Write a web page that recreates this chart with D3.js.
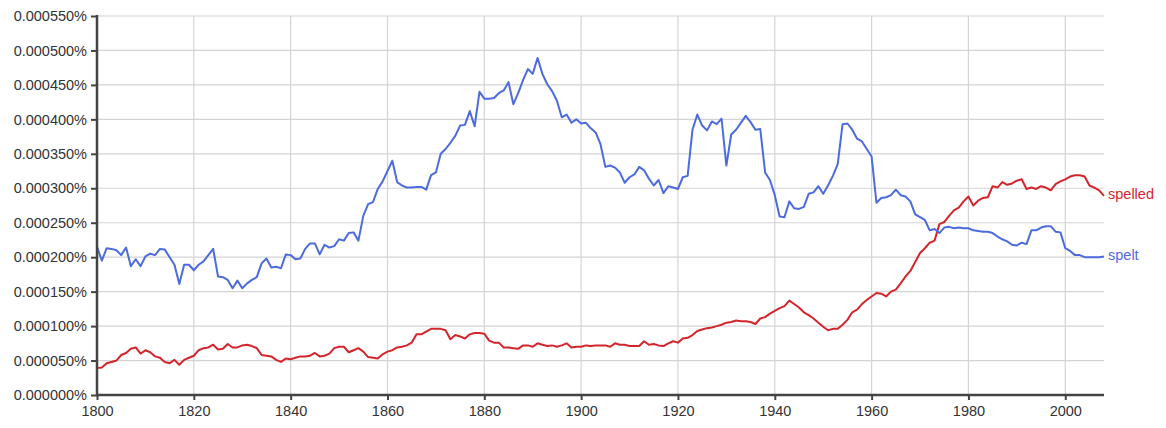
<!DOCTYPE html>
<html>
<head>
<meta charset="utf-8">
<script src="https://cdn.jsdelivr.net/npm/d3@7"></script>
<style>
  html, body { margin: 0; padding: 0; background: #fff; }
  svg { display: block; font-family: "Liberation Sans", Arial, Helvetica, sans-serif; }
</style>
</head>
<body>
<svg id="chart" width="1166" height="428"></svg>
<script>
// Values in millionths of a percent (e.g. 215 => 0.000215%)
const years = d3.range(1800, 2009);
const xTickYears = [1800, 1820, 1840, 1860, 1880, 1900, 1920, 1940, 1960, 1980, 2000];
const yTickValues = [0, 50, 100, 150, 200, 250, 300, 350, 400, 450, 500, 550];
const seriesNames = ["spelled", "spelt"];

const spelt = [
  215,195,213,212,210,203,214,187,197,187,201,205,203,212,211,200,189,161,189,189,
  181,189,194,203,212,172,171,167,155,166,155,162,167,171,191,198,
  185,186,184,204,203,197,198,212,220,220,204,218,214,216,226,224,235,236,224,260,
  277,280,299,310,325,340,309,304,301,301,302,302,298,319,323,
  350,357,366,376,391,392,412,390,440,430,430,431,438,442,454,422,438,457,473,466,
  489,466,451,441,427,403,407,395,400,394,395,387,381,364,331,
  333,330,323,308,316,320,331,326,314,304,312,293,303,301,299,316,318,385,407,391,
  384,397,393,401,333,378,385,395,405,396,385,386,323,312,290,
  259,258,281,271,270,273,292,294,303,292,304,318,335,393,394,385,372,368,357,346,
  279,286,287,290,298,290,288,281,262,258,254,239,241,235,243,
  244,242,243,242,242,239,238,237,237,235,230,226,223,218,217,221,219,239,239,243,
  245,245,237,236,213,209,203,203,200,200,200,200,201
];

const spelled = [
  39,40,46,48,50,58,61,67,69,60,65,62,56,54,48,46,51,44,51,54,
  57,65,68,69,73,66,67,74,69,69,72,73,71,68,58,57,
  56,51,48,53,52,54,56,56,57,61,56,57,60,68,70,70,62,65,68,63,
  55,54,53,59,63,65,69,70,72,76,88,88,92,96,96,
  96,94,81,87,85,82,88,90,90,89,79,76,76,69,69,68,67,72,72,70,
  75,73,71,72,70,72,75,69,70,70,72,71,72,72,72,
  70,75,73,73,71,71,71,78,73,74,72,71,75,78,76,82,83,87,93,95,
  97,98,100,102,105,106,108,107,107,106,103,111,113,118,122,
  126,129,137,132,127,120,116,111,105,99,94,96,96,102,109,120,124,132,138,143,
  148,147,143,150,153,162,172,180,193,206,213,221,224,248,251,
  260,268,272,281,288,275,282,286,287,303,301,309,305,307,311,313,299,301,299,303,
  301,297,306,310,313,317,319,319,317,304,301,297,289
];

const colors = { spelled: "#d3262c", spelt: "#4c6bdd" };
const seriesData = { spelled: spelled, spelt: spelt };

const svg = d3.select("#chart");
const mLeft = 97, mRight = 1104, mTop = 16, mBottom = 395;

const x = d3.scaleLinear().domain([1800, 2008]).range([mLeft, mRight]);
const y = d3.scaleLinear().domain([0, 550]).range([mBottom, mTop]);

// grid
const grid = svg.append("g");
grid.selectAll("line.h").data(yTickValues.slice(1)).join("line")
  .attr("x1", mLeft).attr("x2", mRight)
  .attr("y1", d => y(d)).attr("y2", d => y(d))
  .attr("stroke", "#d4d4d4").attr("stroke-width", 1.2);
grid.selectAll("line.v").data(xTickYears.slice(1)).join("line")
  .attr("x1", d => x(d)).attr("x2", d => x(d))
  .attr("y1", mTop).attr("y2", mBottom)
  .attr("stroke", "#d4d4d4").attr("stroke-width", 1.2);

// lines
const line = d3.line().x((d, i) => x(years[i])).y(d => y(d));
seriesNames.forEach(name => {
  svg.append("path")
    .datum(seriesData[name])
    .attr("fill", "none")
    .attr("stroke", colors[name])
    .attr("stroke-width", 2)
    .attr("stroke-linejoin", "round")
    .attr("d", line);
  const vals = seriesData[name];
  svg.append("text")
    .attr("x", mRight + 4)
    .attr("y", y(vals[vals.length - 1]) - 2)
    .attr("dy", "0.35em")
    .attr("fill", colors[name])
    .attr("font-size", "14.5px")
    .text(name);
});

// axes
const yAxis = d3.axisLeft(y).tickValues(yTickValues).tickSize(6).tickPadding(4)
  .tickFormat(d => (d / 1e6).toFixed(6) + "%");
const gy = svg.append("g").attr("transform", `translate(${mLeft},0)`).call(yAxis);
gy.select(".domain").remove();
gy.selectAll(".tick line").attr("stroke", "#444").attr("stroke-width", 2);
gy.selectAll(".tick text").attr("fill", "#333").attr("font-size", "14.5px")
  .attr("font-family", "'Liberation Sans', Arial, sans-serif");

const xAxis = d3.axisBottom(x).tickValues(xTickYears).tickSize(5).tickPadding(6)
  .tickFormat(d3.format("d"));
const gx = svg.append("g").attr("transform", `translate(0,${mBottom})`).call(xAxis);
gx.select(".domain").remove();
gx.selectAll(".tick line").attr("stroke", "#444").attr("stroke-width", 2);
gx.selectAll(".tick text").attr("fill", "#333").attr("font-size", "14.5px")
  .attr("font-family", "'Liberation Sans', Arial, sans-serif");

// axis lines
svg.append("line").attr("x1", mLeft).attr("x2", mLeft).attr("y1", mTop - 1).attr("y2", mBottom + 1)
  .attr("stroke", "#444").attr("stroke-width", 2.5);
svg.append("line").attr("x1", mLeft - 1).attr("x2", mRight).attr("y1", mBottom).attr("y2", mBottom)
  .attr("stroke", "#444").attr("stroke-width", 2.5);
</script>
</body>
</html>
